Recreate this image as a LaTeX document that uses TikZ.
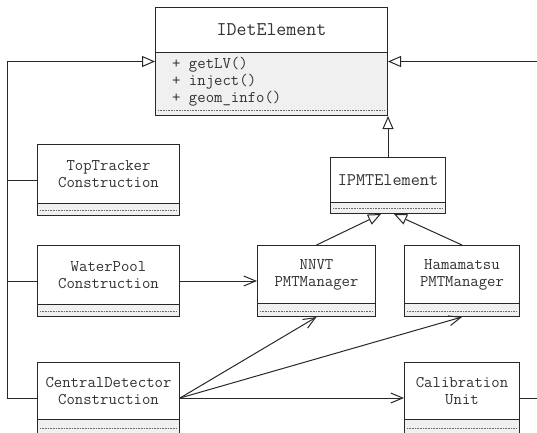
\documentclass[tikz,border=0pt]{standalone}
\usepackage{fontspec}
\usepackage{tikz}
\usetikzlibrary{arrows.meta, positioning, calc}
\newcommand\umlfont{\ttfamily}
\definecolor{umlline}{RGB}{40, 40, 40}
\definecolor{umltext}{RGB}{50, 50, 50}
\definecolor{umlops}{RGB}{240, 240, 240}

\tikzset{
  umlbox/.style={draw=umlline, fill=umlops, line width=1pt, inner sep=0pt, anchor=north west},
  umlname/.style={draw=umlline, fill=white, line width=1pt, inner sep=0pt, anchor=north,
                  align=center, text=umltext, font=\umlfont\fontsize{16.3}{17}\selectfont},
  inherit/.style={draw=umlline, line width=1pt, -{Triangle[length=13pt, width=11pt, fill=white]}},
  assoc/.style={draw=umlline, line width=1pt, -{Straight Barb[length=12pt, width=10pt]}},
  plain/.style={draw=umlline, line width=1pt},
  dots/.style={umlline!70, densely dotted, line width=0.6pt}
}

\begin{document}
\begin{tikzpicture}[x=1pt, y=-1pt]
    \useasboundingbox (0,0) rectangle (537,432);

    % interfaces
    \node[umlbox, minimum width=232pt, minimum height=108pt] (idet) at (155,7) {};
    \node[umlname, minimum width=232pt, minimum height=45pt,
          font=\umlfont\fontsize{19.4}{20}\selectfont] (idet-name) at (idet.north) {IDetElement};
    \node[anchor=west, align=left, inner sep=0pt, text=umltext,
          font=\umlfont\fontsize{16.3}{17}\selectfont] (idet-ops) at (172,82)
          {+ getLV()\\+ inject()\\+ geom\_info()};

    \node[umlbox, minimum width=115pt, minimum height=56pt] (ipmt) at (330,157) {};
    \node[umlname, minimum width=115pt, minimum height=45pt,
          font=\umlfont\fontsize{17.7}{18}\selectfont] (ipmt-name) at (ipmt.north) {IPMTElement};

    % constructions
    \node[umlbox, minimum width=142pt, minimum height=71pt] (tt) at (37,144) {};
    \node[umlname, minimum width=142pt, minimum height=59pt] (tt-name) at (tt.north) {TopTracker\\Construction};

    \node[umlbox, minimum width=142pt, minimum height=71pt] (wp) at (37,245) {};
    \node[umlname, minimum width=142pt, minimum height=59pt] (wp-name) at (wp.north) {WaterPool\\Construction};

    \node[umlbox, minimum width=142pt, minimum height=71pt] (cd) at (37,362) {};
    \node[umlname, minimum width=142pt, minimum height=57pt] (cd-name) at (cd.north) {CentralDetector\\Construction};

    % pmt managers
    \node[umlbox, minimum width=118pt, minimum height=71pt] (nnvt) at (257,245) {};
    \node[umlname, minimum width=118pt, minimum height=58pt] (nnvt-name) at (nnvt.north) {NNVT\\PMTManager};

    \node[umlbox, minimum width=115pt, minimum height=71pt] (hama) at (404,245) {};
    \node[umlname, minimum width=115pt, minimum height=58pt] (hama-name) at (hama.north) {Hamamatsu\\PMTManager};

    \node[umlbox, minimum width=115pt, minimum height=71pt] (calib) at (404,362) {};
    \node[umlname, minimum width=115pt, minimum height=57pt] (calib-name) at (calib.north) {Calibration\\Unit};

    \foreach \c in {idet, ipmt, tt, wp, cd, nnvt, hama, calib}
      \draw[dots] ([xshift=3pt, yshift=6pt]\c.south west) -- ([xshift=-3pt, yshift=6pt]\c.south east);

    % inheritance
    \coordinate (lbus) at ([xshift=-148pt]idet.west);
    \coordinate (rbus) at ([xshift=160pt]idet.east);
    \draw[inherit] (cd.west) -| (lbus) -- (idet.west);
    \draw[plain] (tt.west) -- (tt.west -| lbus);
    \draw[plain] (wp.west) -- (wp.west -| lbus);
    \draw[inherit] (calib.east) -| (rbus) -- (idet.east);
    \draw[inherit] (ipmt.north) -- (ipmt.north |- idet.south);
    \draw[inherit] (nnvt.north) -- ([xshift=-7pt]ipmt.south);
    \draw[inherit] (hama.north) -- ([xshift=6pt]ipmt.south);

    % associations
    \draw[assoc] (wp.east) -- (nnvt.west);
    \draw[assoc] (cd.east) -- (nnvt.south);
    \draw[assoc] (cd.east) -- (hama.south);
    \draw[assoc] (cd.east) -- (calib.west);
\end{tikzpicture}
\end{document}
